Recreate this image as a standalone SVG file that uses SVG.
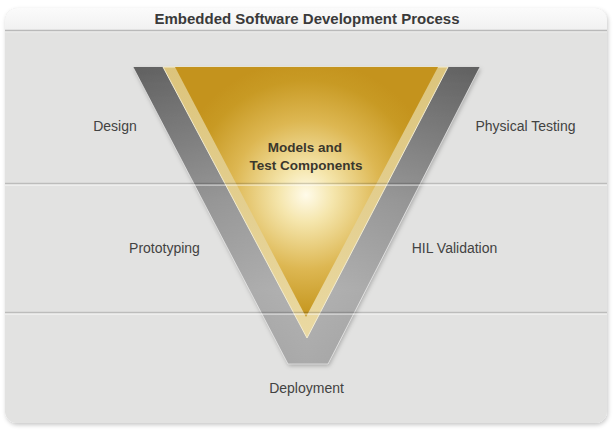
<svg xmlns="http://www.w3.org/2000/svg" width="615" height="434" viewBox="0 0 615 434">
<style>
.lbl{font-family:"Liberation Sans",Arial,sans-serif;font-size:14px;fill:#424242;text-anchor:middle}
.ttl{font-family:"Liberation Sans",Arial,sans-serif;font-size:15px;font-weight:bold;fill:#3a3a3a;text-anchor:middle}
.core{font-family:"Liberation Sans",Arial,sans-serif;font-size:13.5px;font-weight:bold;fill:#3b372c;text-anchor:middle}
.sepd{stroke:#000;stroke-opacity:0.17;stroke-width:1.3;fill:none}
.sepl{stroke:#fff;stroke-opacity:0.55;stroke-width:1.2;fill:none}
</style>
<defs>
<linearGradient id="hdr" x1="0" y1="0" x2="0" y2="1">
<stop offset="0" stop-color="#fbfbfb"/>
<stop offset="1" stop-color="#f1f1f1"/>
</linearGradient>
<linearGradient id="grayV" gradientUnits="userSpaceOnUse" x1="0" y1="67" x2="0" y2="364">
<stop offset="0" stop-color="#696969"/>
<stop offset="0.45" stop-color="#999999"/>
<stop offset="0.75" stop-color="#acacac"/>
<stop offset="1" stop-color="#a3a3a3"/>
</linearGradient>
<linearGradient id="grayH" gradientUnits="userSpaceOnUse" x1="133" y1="0" x2="480" y2="0">
<stop offset="0" stop-color="#000" stop-opacity="0.08"/>
<stop offset="0.5" stop-color="#fff" stop-opacity="0.08"/>
<stop offset="1" stop-color="#000" stop-opacity="0.08"/>
</linearGradient>
<linearGradient id="lgold" gradientUnits="userSpaceOnUse" x1="0" y1="67" x2="0" y2="338">
<stop offset="0" stop-color="#dcc47c"/>
<stop offset="1" stop-color="#ead9a2"/>
</linearGradient>
<radialGradient id="gold" gradientUnits="userSpaceOnUse" cx="306" cy="195" r="135">
<stop offset="0" stop-color="#fffbea"/>
<stop offset="0.2" stop-color="#f5e6ad"/>
<stop offset="0.55" stop-color="#ddb752"/>
<stop offset="0.85" stop-color="#c89a24"/>
<stop offset="1" stop-color="#c4931d"/>
</radialGradient>
<filter id="sh" x="-10%" y="-10%" width="120%" height="120%">
<feDropShadow dx="1" dy="2" stdDeviation="2" flood-color="#000" flood-opacity="0.22"/>
</filter>
<filter id="vsh" x="-10%" y="-10%" width="120%" height="120%">
<feDropShadow dx="1" dy="2" stdDeviation="2" flood-color="#000" flood-opacity="0.25"/>
</filter>
</defs>
<rect width="615" height="434" fill="#ffffff"/>
<g id="card">
<rect x="5" y="8" width="602" height="415" rx="12" ry="12" fill="#e2e2e1" filter="url(#sh)"/>
<path d="M5 30 V20 A12 12 0 0 1 17 8 H595 A12 12 0 0 1 607 20 V30 Z" fill="url(#hdr)"/>
<line x1="5" y1="30.5" x2="607" y2="30.5" stroke="#b9b9b9" stroke-width="1.5"/>
<line x1="5" y1="32" x2="607" y2="32" stroke="#ececec" stroke-width="1"/>
</g>
<g id="title">
<text class="ttl" x="307" y="24">Embedded Software Development Process</text>
</g>
<g id="v-shape">
<path d="M133 67 H480 L328 364 H288 Z" fill="url(#grayV)" filter="url(#vsh)"/>
<path d="M133 67 H480 L328 364 H288 Z" fill="url(#grayH)"/>
<path d="M133 67 L288 364 H328 L480 67" fill="none" stroke="#ededed" stroke-opacity="0.7" stroke-width="1"/>
</g>
<g id="core">
<path d="M163 67 H448 L307 338 Z" fill="url(#lgold)" stroke="#f3ecd0" stroke-width="1"/>
<path d="M175 67 H438 L306 317 Z" fill="url(#gold)"/>
<text class="core" x="305" y="152">Models and</text>
<text class="core" x="306" y="170">Test Components</text>
</g>
<g id="connectors">
<line class="sepd" x1="5" y1="183.5" x2="607" y2="183.5"/>
<line class="sepl" x1="5" y1="185.2" x2="607" y2="185.2"/>
<line class="sepd" x1="5" y1="312.5" x2="607" y2="312.5"/>
<line class="sepl" x1="5" y1="314.2" x2="607" y2="314.2"/>
</g>
<g id="design"><text class="lbl" x="115" y="131">Design</text></g>
<g id="physical-testing"><text class="lbl" x="525.5" y="131">Physical Testing</text></g>
<g id="prototyping"><text class="lbl" x="164.5" y="253">Prototyping</text></g>
<g id="hil-validation"><text class="lbl" x="454.5" y="253">HIL Validation</text></g>
<g id="deployment"><text class="lbl" x="306.5" y="393">Deployment</text></g>
</svg>
